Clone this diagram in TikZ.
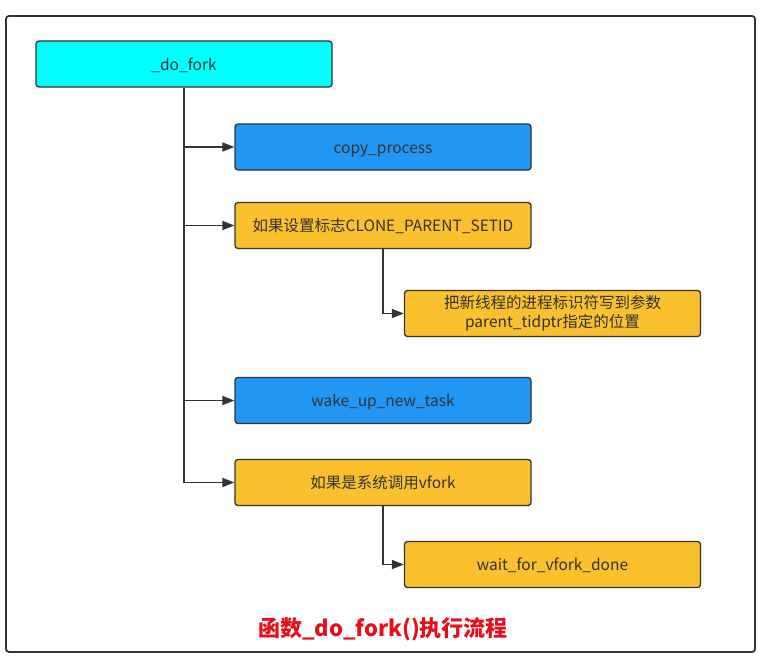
\documentclass[tikz,border=0pt]{standalone}
\usepackage{fontspec}
\setmainfont{Noto Sans CJK SC}
\usetikzlibrary{arrows.meta}
\definecolor{ink}{HTML}{333333}
\definecolor{entrycyan}{HTML}{00FFFF}
\definecolor{callblue}{HTML}{2196F3}
\definecolor{condamber}{HTML}{FBC02D}
\definecolor{titlered}{HTML}{E60E1A}

\begin{document}
\begin{tikzpicture}[x=1pt, y=-1pt, font=\fontsize{15.5}{19}\selectfont, ink,
    fn/.style={draw=ink, line width=1.3pt, rounded corners=3pt, minimum width=296pt, minimum height=46pt, inner sep=2pt, align=center, text=ink},
    oneline/.style={text height=14pt, text depth=1.4pt},
    entry/.style={fn, oneline, fill=entrycyan},
    call/.style={fn, oneline, fill=callblue},
    cond/.style={fn, fill=condamber},
    flow/.style={-{Triangle[length=12pt,width=9pt]}, line width=1.7pt, draw=ink},
  ]
% --- Page and frame ------------------------------------------------------------
\useasboundingbox (0,0) rectangle (778,664);
\fill[white] (0,0) rectangle (778,664);
\draw[ink, line width=1.8pt, rounded corners=3pt] (6,16) rectangle (755,652);

% --- Entry -------------------------------------------------------------------------
\node[entry] (dofork) at (184,64) {\_do\_fork};

% --- Steps on the trunk -----------------------------------------------------------
\node[call] (copy) at (383,147) {copy\_process};
\node[cond, oneline] (setid) at (383,225.5) {如果设置标志CLONE\_PARENT\_SETID};
\node[cond] (tidptr) at (552.5,313.5) {把新线程的进程标识符写到参数\\parent\_tidptr指定的位置};
\node[call] (wakeup) at (383,400.5) {wake\_up\_new\_task};
\node[cond, oneline] (isvfork) at (383,482.5) {如果是系统调用vfork};
\node[cond, oneline] (vfdone) at (552.5,564.5) {wait\_for\_vfork\_done};

% --- Title -------------------------------------------------------------------------
\node[text=titlered, font=\fontsize{22}{26}\selectfont\bfseries] (title) at (383,629) {函数\_do\_fork()执行流程};

% --- Flow --------------------------------------------------------------------------
\draw[flow] (dofork.south) |- (copy.west);
\draw[flow] (dofork.south) |- (setid.west);
\draw[flow] (dofork.south) |- (wakeup.west);
\draw[flow] (dofork.south) |- (isvfork.west);
\draw[flow] (setid.south) |- (tidptr.west);
\draw[flow] (isvfork.south) |- (vfdone.west);
\end{tikzpicture}
\end{document}
